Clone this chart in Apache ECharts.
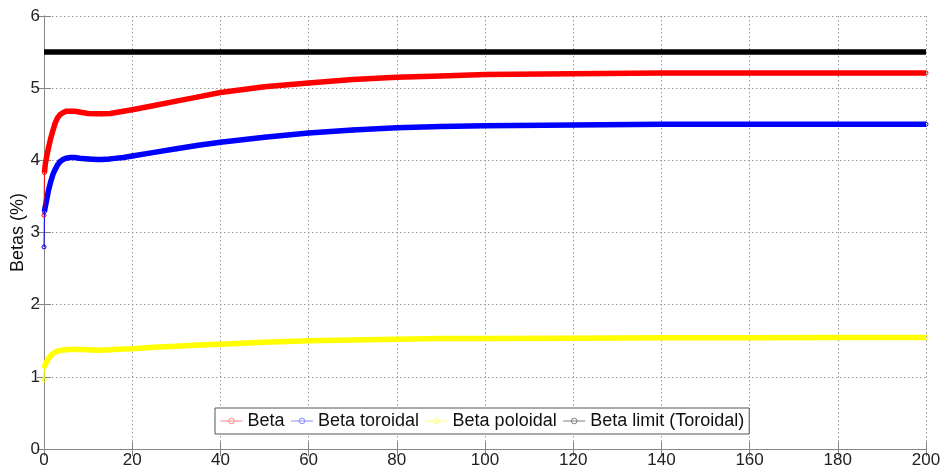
<!DOCTYPE html>
<html>
<head>
<meta charset="utf-8">
<title>Betas</title>
<script src="https://cdn.jsdelivr.net/npm/echarts@6/dist/echarts.min.js"></script>
<style>
  html, body { margin: 0; padding: 0; background: #fff; }
  #chart { width: 943px; height: 470px; }
</style>
</head>
<body>
<div id="chart"></div>
<script>
// Time samples (s) shared by the three beta traces
const times = [0, 0.1, 0.3, 0.6, 1, 1.5, 2, 2.5, 3, 3.6, 4.3, 5, 6, 7, 8, 10, 12, 13, 15, 18,
  20, 25, 30, 35, 40, 50, 60, 70, 80, 90, 100, 120, 140, 160, 180, 200];

const betaValues = [3.24, 3.83, 3.95, 4.05, 4.17, 4.30, 4.41, 4.51, 4.58, 4.63, 4.66, 4.68, 4.68, 4.68, 4.67, 4.65, 4.645, 4.645, 4.65, 4.68,
  4.70, 4.76, 4.82, 4.88, 4.94, 5.02, 5.07, 5.12, 5.15, 5.17, 5.19, 5.20, 5.21, 5.21, 5.21, 5.21];

const betaToroidalValues = [2.80, 3.29, 3.36, 3.45, 3.58, 3.70, 3.80, 3.87, 3.93, 3.98, 4.01, 4.03, 4.04, 4.04, 4.03, 4.02, 4.01, 4.01, 4.02, 4.04,
  4.06, 4.11, 4.16, 4.21, 4.25, 4.32, 4.38, 4.42, 4.45, 4.47, 4.48, 4.49, 4.50, 4.50, 4.50, 4.50];

const betaPoloidalValues = [0.96, 1.14, 1.17, 1.21, 1.25, 1.29, 1.32, 1.34, 1.355, 1.365, 1.37, 1.375, 1.38, 1.38, 1.38, 1.375, 1.37, 1.37, 1.375, 1.385,
  1.39, 1.41, 1.425, 1.44, 1.45, 1.48, 1.50, 1.51, 1.52, 1.53, 1.53, 1.535, 1.54, 1.54, 1.545, 1.545];

// Toroidal beta limit (constant)
const limitTimes = [0, 200];
const limitValues = [5.5, 5.5];

const seriesNames = ['Beta', 'Beta toroidal', 'Beta poloidal', 'Beta limit (Toroidal)'];

function pairs(xs, ys) {
  return xs.map(function (x, i) { return [x, ys[i]]; });
}

const FONT = 'Liberation Sans, Arial, sans-serif';
const AXIS_GRAY = '#858585';
const GRID_GRAY = '#9a9a9a';

// Thin line with open circle markers, plus a heavy stroke that mimics the dense marker band
function traceSeries(name, color, xs, ys) {
  const data = pairs(xs, ys);
  return [
    {
      name: name + ' band',
      type: 'line',
      data: data.slice(1),
      symbol: 'none',
      lineStyle: { color: color, width: 5.5, join: 'round' },
      z: 3,
      silent: true
    },
    {
      name: name,
      type: 'line',
      data: data,
      symbol: 'circle',
      symbolSize: 4,
      showAllSymbol: true,
      itemStyle: { color: 'rgba(0,0,0,0)', borderColor: color, borderWidth: 1 },
      lineStyle: { color: color, width: 1 },
      z: 4,
      silent: true
    }
  ];
}

function legendItem(name, color) {
  return {
    name: name,
    itemStyle: { color: 'rgba(0,0,0,0)', borderColor: color, borderWidth: 1 },
    lineStyle: { color: color, width: 1 }
  };
}

const chart = echarts.init(document.getElementById('chart'), null, { renderer: 'canvas' });

const gridLine = { show: true, lineStyle: { color: GRID_GRAY, width: 1, type: [1.5, 2.5] } };
const axisLine = { show: true, lineStyle: { color: AXIS_GRAY, width: 1 } };
const axisTick = { show: true, inside: true, length: 7, lineStyle: { color: AXIS_GRAY } };

chart.setOption({
  animation: false,
  backgroundColor: '#fff',
  grid: { left: 44, right: 17, top: 16, bottom: 21, outerBoundsMode: 'none' },
  legend: {
    left: 215,
    top: 408,
    orient: 'horizontal',
    backgroundColor: '#fff',
    borderColor: '#555',
    borderWidth: 1,
    borderRadius: 0,
    padding: [4, 5, 4, 5],
    itemGap: 6,
    itemWidth: 22,
    itemHeight: 7,
    textStyle: { fontFamily: FONT, fontSize: 18, color: '#111' },
    data: [
      legendItem(seriesNames[0], '#ff8a8a'),
      legendItem(seriesNames[1], '#8a8aff'),
      legendItem(seriesNames[2], '#ffff80'),
      legendItem(seriesNames[3], '#808080')
    ]
  },
  xAxis: [
    {
      type: 'value', min: 0, max: 200, interval: 20, position: 'bottom',
      axisLine: axisLine, axisTick: axisTick, splitLine: gridLine,
      axisLabel: { fontFamily: FONT, fontSize: 17, color: '#222', margin: 3 }
    },
    {
      type: 'value', min: 0, max: 200, interval: 20, position: 'top',
      axisLine: axisLine, axisTick: axisTick, splitLine: { show: false },
      axisLabel: { show: false }
    }
  ],
  yAxis: [
    {
      type: 'value', min: 0, max: 6, interval: 1, position: 'left',
      name: 'Betas (%)', nameLocation: 'middle', nameGap: 17, nameRotate: 90,
      nameMoveOverlap: false,
      nameTextStyle: { fontFamily: FONT, fontSize: 18, color: '#111' },
      axisLine: axisLine, axisTick: axisTick, splitLine: gridLine,
      axisLabel: { fontFamily: FONT, fontSize: 17, color: '#222', margin: 4 }
    },
    {
      type: 'value', min: 0, max: 6, interval: 1, position: 'right',
      axisLine: axisLine, axisTick: axisTick, splitLine: { show: false },
      axisLabel: { show: false }
    }
  ],
  series: [].concat(
    traceSeries(seriesNames[0], '#ff0000', times, betaValues),
    traceSeries(seriesNames[1], '#0000ff', times, betaToroidalValues),
    traceSeries(seriesNames[2], '#ffff00', times, betaPoloidalValues),
    [
      {
        name: seriesNames[3],
        type: 'line',
        data: pairs(limitTimes, limitValues),
        symbol: 'none',
        lineStyle: { color: '#000000', width: 5.5 },
        z: 3,
        silent: true
      }
    ]
  )
});
</script>
</body>
</html>
